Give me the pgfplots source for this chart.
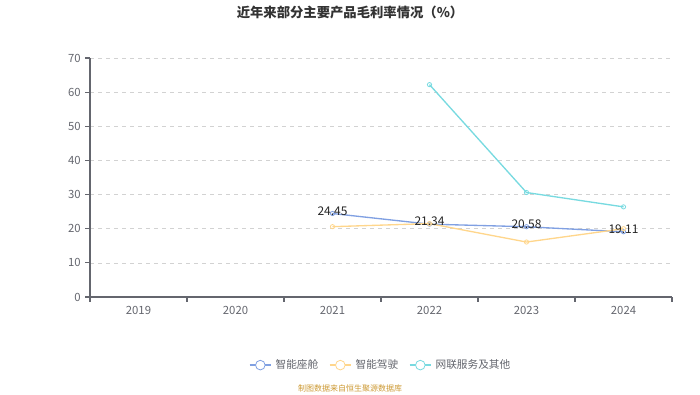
\documentclass[border=0pt]{standalone}
\usepackage{pgfplots}
\pgfplotsset{compat=1.18}
\usepackage{fontspec}
\setmainfont{Noto Sans CJK SC}
\definecolor{cblue}{RGB}{128,160,226}
\definecolor{cyel}{RGB}{255,214,140}
\definecolor{ccyan}{RGB}{120,218,224}
\definecolor{axgray}{RGB}{100,102,110}
\definecolor{gridgray}{RGB}{210,210,210}
\definecolor{srcgold}{RGB}{204,153,51}
\begin{document}
\begin{tikzpicture}[x=1pt,y=1pt]
\path[use as bounding box] (0,0) rectangle (525,295.5);
\node[font=\bfseries\fontsize{10}{12}\selectfont, text=black!80] at (262.5,286.5) {近年来部分主要产品毛利率情况（\%）};
\begin{axis}[
  at={(67.5pt,72.75pt)}, anchor=south west,
  scale only axis, width=436.5pt, height=179.25pt,
  xmin=-0.5, xmax=5.5, ymin=0, ymax=70,
  xtick={0,1,2,3,4,5},
  xticklabels={2019,2020,2021,2022,2023,2024},
  ytick={0,10,...,70},
  axis x line*=bottom, axis y line*=left,
  axis line style={axgray, line width=0.8pt},
  x axis line style={-}, y axis line style={-},
  major x tick style={draw=none},
  minor xtick={-0.5,0.5,...,5.5},
  minor x tick style={axgray, line width=0.8pt},
  minor tick length=3.5pt,
  major tick length=3.5pt,
  tick align=outside,
  ytick style={axgray, line width=0.8pt},
  ymajorgrids, grid style={gridgray, dashed, line width=0.5pt},
  tick label style={font=\fontsize{8.5}{10}\selectfont, text=axgray},
  /pgf/number format/assume math mode=true,
  clip=false,
  legend style={at={(0.5,-0.285)}, anchor=center, draw=none, legend columns=3, font=\fontsize{8}{10}\selectfont, text=axgray, /tikz/every even column/.append style={column sep=6pt}, /tikz/every odd column/.append style={column sep=1pt}},
  legend cell align=left,
  legend image code/.code={
    \draw[#1, mark=none] (0pt,0pt) -- (16pt,0pt);
    \draw[#1, fill=white, line width=0.6pt] (8pt,0pt) circle (3.6pt);
  },
]
\addplot[cblue, line width=1pt, mark=o, mark size=1.6pt, mark options={fill=white, line width=0.6pt},
  nodes near coords, point meta=explicit symbolic,
  every node near coord/.append style={font=\fontsize{9}{10}\selectfont, text=black!85, anchor=center, yshift=2pt}]
  coordinates {(2,24.45)[24.45] (3,21.34)[21.34] (4,20.58)[20.58] (5,19.11)[19.11]};
\addlegendentry{智能座舱}
\addplot[cyel, line width=1pt, mark=o, mark size=1.6pt, mark options={fill=white, line width=0.6pt}]
  coordinates {(2,20.6) (3,21.5) (4,16.1) (5,20.0)};
\addlegendentry{智能驾驶}
\addplot[ccyan, line width=1pt, mark=o, mark size=1.6pt, mark options={fill=white, line width=0.6pt}]
  coordinates {(3,62.2) (4,30.6) (5,26.4)};
\addlegendentry{网联服务及其他}
\end{axis}
\node[font=\fontsize{6}{7}\selectfont, text=srcgold] at (262.5,4) {制图数据来自恒生聚源数据库};
\end{tikzpicture}
\end{document}
